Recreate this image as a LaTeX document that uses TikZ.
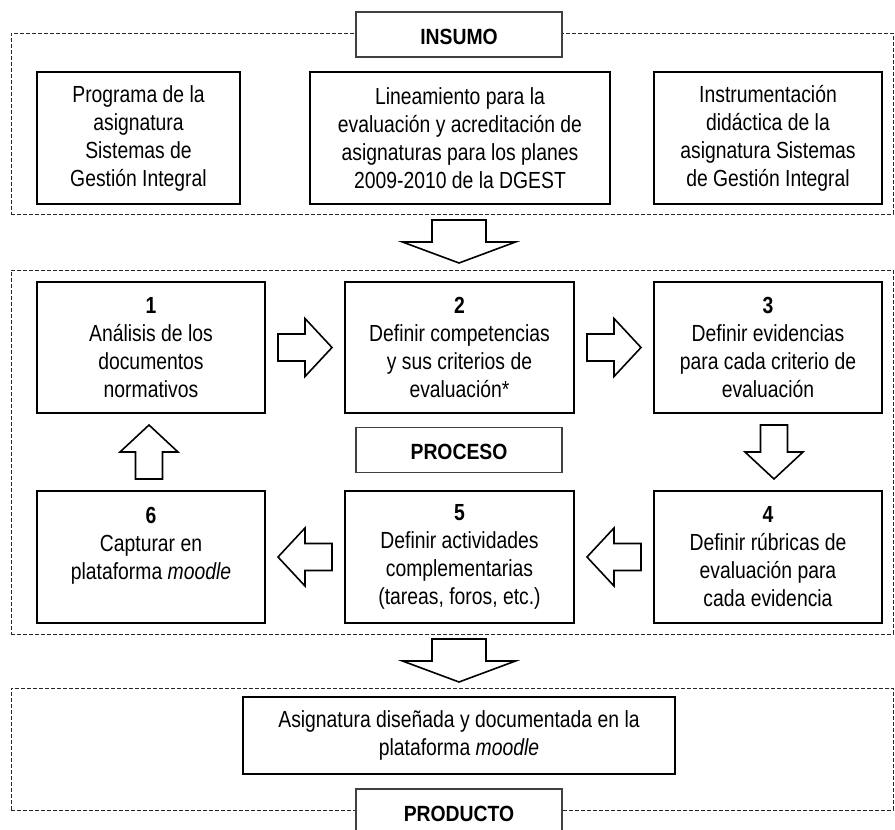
\documentclass[tikz,border=0pt]{standalone}
\usepackage{fontspec}
\setmainfont{Liberation Sans}[FakeStretch=0.83]
\newfontfamily\lblfont{Liberation Sans}[FakeStretch=0.88]
\usetikzlibrary{calc}

\tikzset{
  stagebox/.style={draw, line width=2.6pt, fill=white, align=center, inner sep=0pt,
    font=\fontsize{23.3}{28}\selectfont,
    execute at begin node={\rule{0pt}{25pt}}},
  tagbox/.style={draw=black!75, line width=1.2pt, fill=white, inner sep=0pt,
    minimum width=206pt, minimum height=45pt,
    font=\lblfont\bfseries\fontsize{22}{26}\selectfont,
    execute at begin node={\rule{0pt}{20pt}}},
  zone/.style={draw=black!85, line width=0.9pt, dash pattern=on 4pt off 2pt,
    inner sep=0pt, minimum width=882pt},
  hollow/.style={draw, line width=1.6pt, fill=white, line join=miter},
  smallarrow/.pic={\draw[hollow] (-27,-13.5)--(0,-13.5)--(0,-29)--(27,0)--(0,29)--(0,13.5)--(-27,13.5)--cycle;},
  bigarrow/.pic={\draw[hollow] (-22,-27)--(0,-27)--(0,-56.5)--(21,0)--(0,56.5)--(0,27)--(-22,27)--cycle;},
}

\begin{document}
\begin{tikzpicture}[x=1pt,y=-1pt]
\useasboundingbox (0,0) rectangle (895,830);
\clip (0,0) rectangle (895,830);

% dashed zones
\node[zone, minimum height=181pt] (fIn) at (452,123.5) {};
\node[zone, minimum height=364pt] (fPr) at (452,452) {};
\node[zone, minimum height=122pt] (fPd) at (452,749) {};

% zone titles
\node[tagbox] (tagIn) at (459,34.5) {INSUMO};
\node[tagbox] (tagPr) at (459,450) {PROCESO};
\node[tagbox] (tagPd) at (459,811.5) {PRODUCTO};

% inputs
\node[stagebox, minimum width=203pt, minimum height=132pt] (in1) at (138.5,138)
  {Programa de la\\asignatura\\Sistemas de\\Gestión Integral};
\node[stagebox, minimum width=300pt, minimum height=132pt] (in2) at (460,138)
  {Lineamiento para la\\evaluación y acreditación de\\asignaturas para los planes\\2009-2010 de la DGEST};
\node[stagebox, minimum width=228pt, minimum height=132pt] (in3) at (768,138)
  {Instrumentación\\didáctica de la\\asignatura Sistemas\\de Gestión Integral};

% process steps
\node[stagebox, minimum width=228pt, minimum height=131pt] (p1) at (151,347.5)
  {\textbf{1}\\Análisis de los\\documentos\\normativos};
\node[stagebox, minimum width=229pt, minimum height=131pt] (p2) at (459.5,347.5)
  {\textbf{2}\\Definir competencias\\y sus criterios de\\evaluación*};
\node[stagebox, minimum width=228pt, minimum height=131pt] (p3) at (768,347.5)
  {\textbf{3}\\Definir evidencias\\para cada criterio de\\evaluación};
\node[stagebox, minimum width=228pt, minimum height=132pt] (p4) at (768,557)
  {\textbf{4}\\Definir rúbricas de\\evaluación para\\cada evidencia};
\node[stagebox, minimum width=229pt, minimum height=132pt] (p5) at (459.5,557)
  {\textbf{5}\\Definir actividades\\complementarias\\(tareas, foros, etc.)};
\node[stagebox, minimum width=228pt, minimum height=132pt] (p6) at (151,557)
  {\textbf{6}\\Capturar en\\plataforma \textit{moodle}\\\mbox{}};

% product
\node[stagebox, minimum width=432pt, minimum height=77pt] (res) at (459,735.5)
  {Asignatura diseñada y documentada en la\\plataforma \textit{moodle}};

% block arrows between the stages
\coordinate (a12) at ($(p1.east)!0.5!(p2.west)$);
\coordinate (a23) at ($(p2.east)!0.5!(p3.west)$);
\coordinate (a34) at ($(p3.south)!0.5!(p4.north)+(6,0)$);
\coordinate (a45) at ($(p4.west)!0.5!(p5.east)$);
\coordinate (a56) at ($(p5.west)!0.5!(p6.east)$);
\coordinate (a61) at ($(p6.north)!0.5!(p1.south)+(-2,0)$);
\pic at (a12) {smallarrow};
\pic at (a23) {smallarrow};
\pic[rotate=-90] at (a34) {smallarrow};
\pic[rotate=180] at (a45) {smallarrow};
\pic[rotate=180] at (a56) {smallarrow};
\pic[rotate=90] at (a61) {smallarrow};

% block arrows between the zones
\coordinate (g1) at ($(fIn.south)!0.5!(fPr.north)$);
\coordinate (g2) at ($(fPr.south)!0.5!(fPd.north)$);
\pic[rotate=-90] at (g1 -| tagIn) {bigarrow};
\pic[rotate=-90] at (g2 -| tagIn) {bigarrow};
\end{tikzpicture}
\end{document}
